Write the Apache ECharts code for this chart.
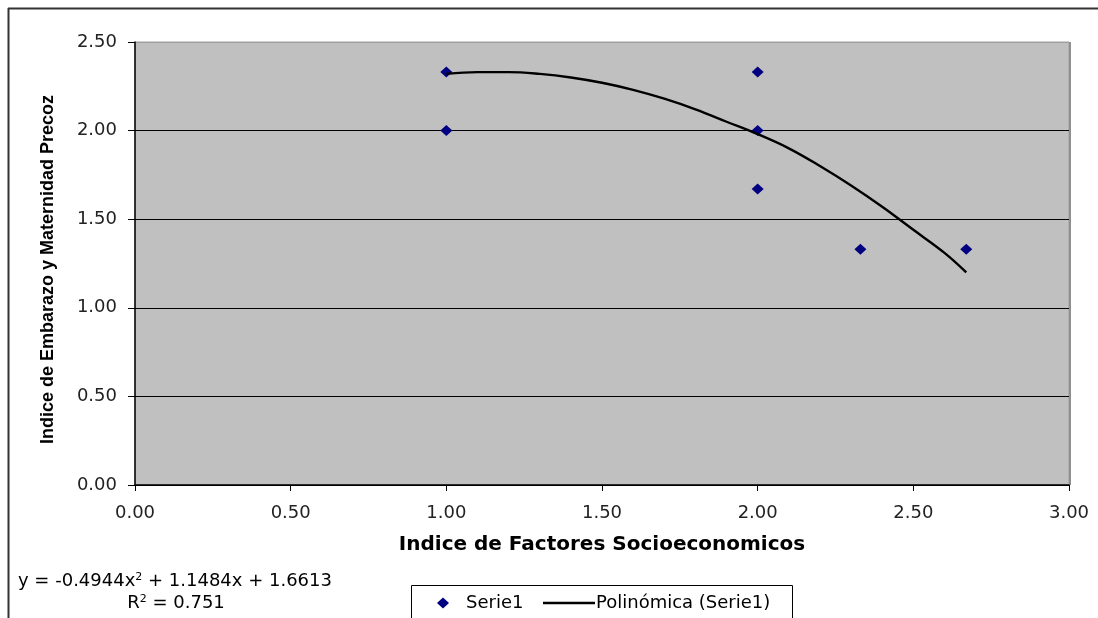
<!DOCTYPE html>
<html>
<head>
<meta charset="utf-8">
<script src="https://cdn.jsdelivr.net/npm/echarts@6/dist/echarts.min.js"></script>
<style>html,body{margin:0;padding:0;background:#fff;}#c{width:1098px;height:618px;}</style>
</head>
<body>
<div id="c"></div>
<script>
// Data
var serieX = [1.00, 1.00, 2.00, 2.00, 2.00, 2.33, 2.67];
var serieY = [2.33, 2.00, 2.33, 2.00, 1.67, 1.33, 1.33];
var trendX = [1.00, 1.10, 1.20, 1.30, 1.40, 1.50, 1.60, 1.70, 1.80, 1.90, 2.00, 2.10, 2.20, 2.30, 2.40, 2.50, 2.60, 2.67];
var trendY = [2.32, 2.33, 2.33, 2.32, 2.30, 2.27, 2.23, 2.18, 2.12, 2.05, 1.98, 1.90, 1.80, 1.69, 1.57, 1.44, 1.31, 1.20];
var xTicks = ['0.00','0.50','1.00','1.50','2.00','2.50','3.00'];
var yTicks = ['0.00','0.50','1.00','1.50','2.00','2.50'];
var serieName = 'Serie1';
var trendName = 'Polinómica (Serie1)';
var xName = 'Indice de Factores Socioeconomicos';
var yName = 'Indice de Embarazo y Maternidad Precoz';
var equationText = 'y = -0.4944x{sup|2} + 1.1484x + 1.6613';
var r2Text = 'R{sup|2} = 0.751';

var chart = echarts.init(document.getElementById('c'), null, {renderer: 'canvas'});
var tickFont = {fontFamily: 'DejaVu Sans', fontSize: 18, color: '#222'};
var supRich = {sup: {fontSize: 11, fontFamily: 'DejaVu Sans', verticalAlign: 'top', padding: [0, 0, 8, 0]}};
chart.setOption({
  animation: false,
  backgroundColor: '#ffffff',
  grid: {left: 135, top: 42, right: 29, bottom: 133, show: true, backgroundColor: '#c0c0c0', borderColor: '#a0a0a0', borderWidth: 1},
  xAxis: {
    type: 'value', min: 0, max: 3, interval: 0.5,
    name: xName, nameLocation: 'middle', nameGap: 50,
    nameTextStyle: {fontFamily: 'DejaVu Sans', fontWeight: 'bold', fontSize: 20, color: '#000'},
    axisLine: {show: true, lineStyle: {color: '#000', width: 1.5}},
    axisTick: {show: true, length: 6, lineStyle: {color: '#000'}},
    axisLabel: {margin: 19, formatter: function (v) { return xTicks[Math.round(v / 0.5)]; }, fontFamily: tickFont.fontFamily, fontSize: tickFont.fontSize, color: tickFont.color},
    splitLine: {show: false}
  },
  yAxis: {
    type: 'value', min: 0, max: 2.5, interval: 0.5,
    name: yName, nameLocation: 'middle', nameGap: 78, nameRotate: 90,
    nameTextStyle: {fontFamily: 'Liberation Sans', fontWeight: 'bold', fontSize: 18, color: '#000', padding: [0, 12, 0, 0]},
    axisLine: {show: true, lineStyle: {color: '#000', width: 1.5}},
    axisTick: {show: true, length: 7, lineStyle: {color: '#000'}},
    axisLabel: {margin: 18, formatter: function (v) { return yTicks[Math.round(v / 0.5)]; }, fontFamily: tickFont.fontFamily, fontSize: tickFont.fontSize, color: tickFont.color},
    splitLine: {show: true, lineStyle: {color: ['#000', '#000', '#000', '#000', '#000', '#a0a0a0'], width: 1.2}}
  },
  legend: [
    {data: [{name: serieName, icon: 'diamond'}], left: 432, top: 589, itemWidth: 12, itemHeight: 11, itemGap: 0,
     itemStyle: {opacity: 1},
     textStyle: {fontFamily: 'DejaVu Sans', fontSize: 18, color: '#000', padding: [0, 0, 0, 12]}},
    {data: [{name: trendName, icon: 'rect'}], left: 538, top: 589, itemWidth: 52, itemHeight: 2.5, itemGap: 0,
     itemStyle: {color: '#000'},
     textStyle: {fontFamily: 'DejaVu Sans', fontSize: 18, color: '#000', padding: [0, 0, 0, -4]}}
  ],
  graphic: [
    {type: 'line', shape: {x1: 8, y1: 8.5, x2: 1098, y2: 8.5}, style: {stroke: '#333', lineWidth: 2}, silent: true},
    {type: 'line', shape: {x1: 8.5, y1: 8, x2: 8.5, y2: 618}, style: {stroke: '#333', lineWidth: 2}, silent: true},
    {type: 'line', shape: {x1: 1070, y1: 42, x2: 1070, y2: 485}, style: {stroke: '#909090', lineWidth: 2}, silent: true},
    {type: 'rect', shape: {x: 411.5, y: 585.5, width: 381, height: 40}, style: {fill: '#fff', stroke: '#000', lineWidth: 1}, silent: true, z: -1},
    {type: 'text', x: 18, y: 581, style: {text: equationText, align: 'left', verticalAlign: 'middle',
      font: '18px "DejaVu Sans"', fill: '#000', rich: supRich}, silent: true},
    {type: 'text', x: 176, y: 603, style: {text: r2Text, align: 'center', verticalAlign: 'middle',
      font: '18px "DejaVu Sans"', fill: '#000', rich: supRich}, silent: true}
  ],
  series: [
    {name: serieName, type: 'scatter', symbol: 'diamond', symbolSize: [12, 11], itemStyle: {color: '#000080', opacity: 1}, z: 3,
     data: serieX.map(function (x, i) { return [x, serieY[i]]; })},
    {name: trendName, type: 'line', smooth: 0.4, showSymbol: false, symbol: 'none', lineStyle: {color: '#000', width: 2.4}, itemStyle: {color: '#000'}, z: 4,
     data: trendX.map(function (x, i) { return [x, trendY[i]]; })}
  ]
});
</script>
</body>
</html>
